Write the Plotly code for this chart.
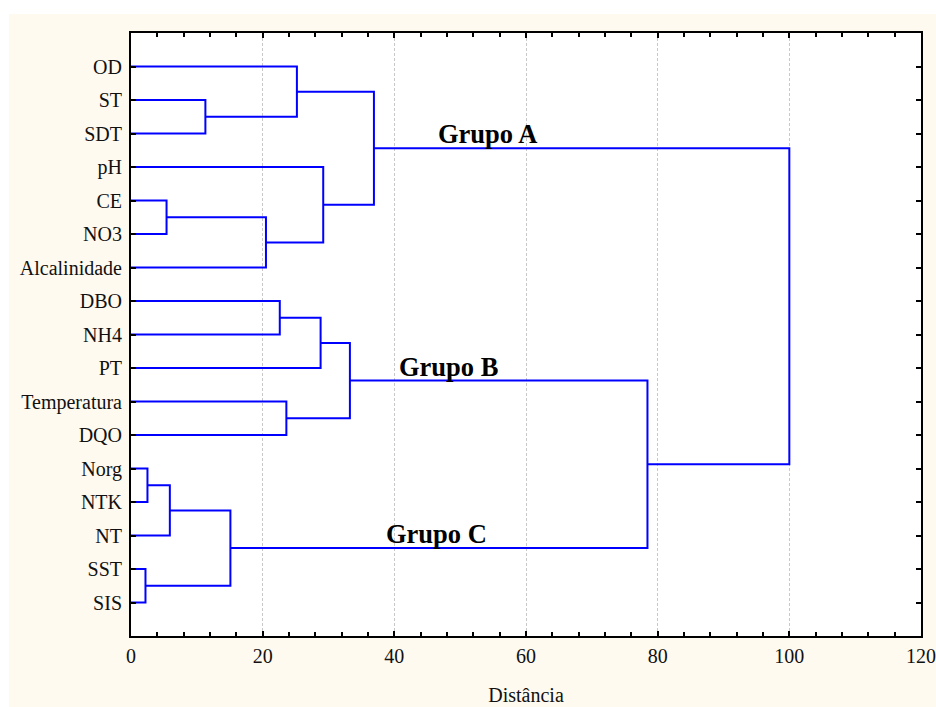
import plotly.graph_objects as go

# ---- data ----
labels = ["OD", "ST", "SDT", "pH", "CE", "NO3", "Alcalinidade", "DBO", "NH4", "PT",
          "Temperatura", "DQO", "Norg", "NTK", "NT", "SST", "SIS"]
# linkage: (left child, right child, distance); new clusters numbered from len(labels)
merge_left = [1, 0, 4, 19, 3, 18, 7, 23, 10, 24, 12, 27, 15, 28, 26, 22]
merge_right = [2, 17, 5, 6, 20, 21, 8, 9, 11, 25, 13, 14, 16, 29, 30, 31]
merge_dist = [11.3, 25.2, 5.4, 20.5, 29.2, 36.9, 22.6, 28.8, 23.6, 33.25,
              2.5, 5.9, 2.2, 15.1, 78.45, 100.0]
group_names = ["Grupo A", "Grupo B", "Grupo C"]
group_nodes = [22, 26, 30]
group_label_x = [54.1, 48.2, 46.4]
x_ticks = [0, 20, 40, 60, 80, 100, 120]

# ---- build dendrogram segments ----
n = len(labels)
ypos = {i: float(i) for i in range(n)}
hgt = {i: 0.0 for i in range(n)}
xs, ys = [], []
for k, (a, b, d) in enumerate(zip(merge_left, merge_right, merge_dist)):
    node = n + k
    ya, yb = ypos[a], ypos[b]
    xs += [hgt[a], d, d, hgt[b], None]
    ys += [ya, ya, yb, yb, None]
    ypos[node] = (ya + yb) / 2
    hgt[node] = d

fig = go.Figure()
fig.add_trace(go.Scatter(x=xs, y=ys, mode="lines",
                         line=dict(color="#0000FF", width=2),
                         hoverinfo="skip", showlegend=False, cliponaxis=False))

for name, node, gx in zip(group_names, group_nodes, group_label_x):
    fig.add_annotation(x=gx, y=ypos[node], text="<b>%s</b>" % name, showarrow=False,
                       xanchor="center", yanchor="middle", yshift=14,
                       font=dict(family="Liberation Serif", size=26.5, color="#000"))

bg = "#FFFAF0"
# white strips outside the beige panel
fig.add_shape(type="rect", xref="paper", yref="paper", x0=-0.3, x1=1.2, y0=1.0315, y1=1.2,
              fillcolor="white", line_width=0, layer="below")
fig.add_shape(type="rect", xref="paper", yref="paper", x0=-0.3, x1=-0.1545, y0=-0.2, y1=1.2,
              fillcolor="white", line_width=0, layer="below")

font = dict(family="Liberation Serif", size=20, color="#111")
fig.update_layout(
    width=936, height=707,
    margin=dict(l=131, r=15, t=33, b=71, pad=0, autoexpand=False),
    paper_bgcolor=bg, plot_bgcolor="white",
    font=font, showlegend=False,
)
fig.update_xaxes(range=[0, 120], tickvals=x_ticks, ticks="inside", ticklen=5, tickwidth=1.5,
                 tickcolor="black", mirror="ticks", showline=True, linecolor="black",
                 linewidth=2, showgrid=True, gridcolor="#C8C8C8", gridwidth=1,
                 griddash="3px,2px", zeroline=False, tickfont=font, automargin=False,
                 minor=dict(dtick=4, ticks="inside", ticklen=4, tickcolor="black",
                            tickwidth=1.5, showgrid=False),
                 title=dict(text="Distância", font=font, standoff=22),
                 ticklabelstandoff=1)
fig.update_yaxes(range=[17, -1], tickvals=list(range(n)), ticktext=labels,
                 ticks="inside", ticklen=5, tickwidth=1.5, tickcolor="black",
                 mirror="ticks", showline=True, linecolor="black", linewidth=2,
                 showgrid=False, zeroline=False, tickfont=font, ticklabelstandoff=3,
                 automargin=False)

fig.write_html(
    "out.html",
    config={"displayModeBar": False},
    post_script="document.body.style.margin='0';"
                "document.documentElement.style.overflow='hidden';"
                "document.body.style.overflow='hidden';",
)
